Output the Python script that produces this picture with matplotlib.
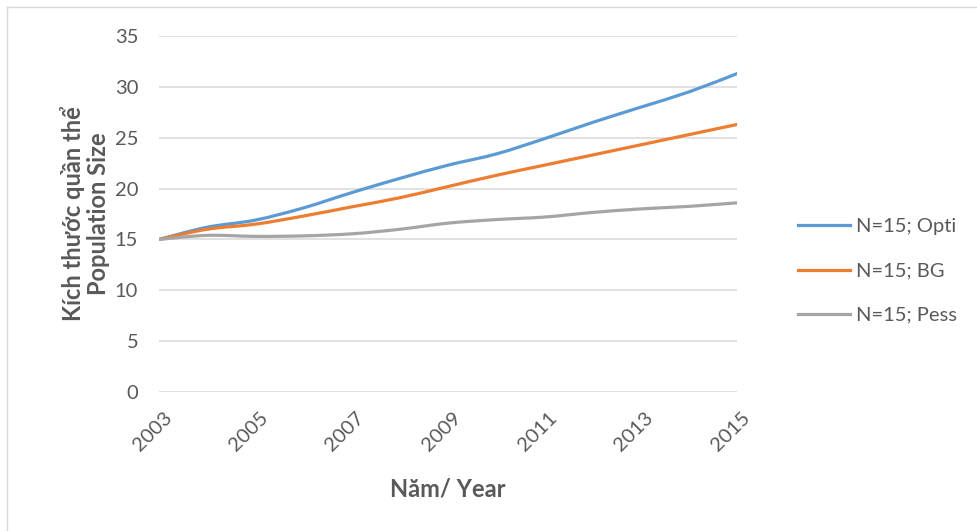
import numpy as np
import matplotlib
matplotlib.use("Agg")
import matplotlib.pyplot as plt
import matplotlib.transforms as mtransforms
from matplotlib.path import Path
from matplotlib.patches import PathPatch
from matplotlib.lines import Line2D

plt.rcParams['font.family'] = ['Lato', 'DejaVu Sans']

years = [2003, 2004, 2005, 2006, 2007, 2008, 2009, 2010, 2011, 2012, 2013, 2014, 2015]
opti = [15.0, 16.2, 16.9, 18.1, 19.6, 21.0, 22.3, 23.4, 24.9, 26.5, 28.0, 29.5, 31.3]
bg = [15.0, 16.0, 16.5, 17.3, 18.2, 19.1, 20.2, 21.3, 22.3, 23.3, 24.3, 25.3, 26.3]
pess = [15.0, 15.4, 15.3, 15.35, 15.55, 16.0, 16.6, 16.95, 17.2, 17.65, 18.0, 18.25, 18.6]

series_labels = ["N=15; Opti", "N=15; BG", "N=15; Pess"]
series_colors = ["#5B9BD5", "#ED7D31", "#A5A5A5"]
yticks = [0, 5, 10, 15, 20, 25, 30, 35]
xticks = [2003, 2005, 2007, 2009, 2011, 2013, 2015]

text_color = "#595959"


def smooth_path(x, y):
    """Catmull-Rom style Bezier path through the points (spreadsheet-like smoothing)."""
    x = np.asarray(x, float)
    y = np.asarray(y, float)
    n = len(x)
    verts = [(x[0], y[0])]
    codes = [Path.MOVETO]
    t = 1.0 / 6.0
    for i in range(n - 1):
        p0 = (x[i - 1], y[i - 1]) if i > 0 else (x[i], y[i])
        p1 = (x[i], y[i])
        p2 = (x[i + 1], y[i + 1])
        p3 = (x[i + 2], y[i + 2]) if i + 2 < n else (x[i + 1], y[i + 1])
        c1 = (p1[0] + (p2[0] - p0[0]) * t, p1[1] + (p2[1] - p0[1]) * t)
        c2 = (p2[0] - (p3[0] - p1[0]) * t, p2[1] - (p3[1] - p1[1]) * t)
        verts += [c1, c2, p2]
        codes += [Path.CURVE4] * 3
    return Path(verts, codes)


fig = plt.figure(figsize=(9.78, 5.31), dpi=100)
ax = fig.add_axes([159 / 978, 1 - 392 / 531, (737 - 159) / 978, (392 - 36) / 531])

for vals, col in zip([opti, bg, pess], series_colors):
    patch = PathPatch(smooth_path(years, vals), facecolor="none", edgecolor=col,
                      lw=2.3, capstyle="round", joinstyle="round", zorder=3)
    ax.add_patch(patch)

ax.set_xlim(years[0], years[-1])
ax.set_ylim(0, 35)
ax.set_yticks(yticks)
ax.set_xticks(xticks)
ax.set_xticklabels([str(v) for v in xticks], rotation=45, ha="right", va="top",
                   rotation_mode="anchor", color=text_color, fontsize=14.5)
ax.set_yticklabels([str(v) for v in yticks], color=text_color, fontsize=14.5)
ax.tick_params(axis="both", length=0)
ax.tick_params(axis="y", pad=15)
ax.tick_params(axis="x", pad=12)
shift = mtransforms.ScaledTranslation(4 / 100, 0, fig.dpi_scale_trans)
for lbl in ax.get_xticklabels():
    lbl.set_transform(lbl.get_transform() + shift)
ax.grid(axis="y", color="#D9D9D9", lw=1.1)
ax.set_axisbelow(True)
for s in ax.spines.values():
    s.set_visible(False)

ax.set_ylabel("Kích thước quần thể\nPopulation Size", fontsize=17, fontweight="bold",
              color=text_color, labelpad=3, linespacing=1.15)
fig.text(448 / 978, 1 - 489 / 531, "Năm/ Year", ha="center", va="center",
         fontsize=17, fontweight="bold", color=text_color)

handles = [Line2D([], [], color=c, lw=2.3) for c in series_colors]
leg = fig.legend(handles, series_labels, loc="center left",
                 bbox_to_anchor=(780 / 978, 1 - 271 / 531), frameon=False,
                 fontsize=14.5, handlelength=2.6, handletextpad=0.25,
                 labelspacing=1.35, labelcolor=text_color)

# chart area border (top and left edges)
fig.add_artist(Line2D([7 / 978, 1.0], [1 - 7 / 531, 1 - 7 / 531],
                      transform=fig.transFigure, color="#D9D9D9", lw=1.0))
fig.add_artist(Line2D([7 / 978, 7 / 978], [0.0, 1 - 7 / 531],
                      transform=fig.transFigure, color="#D9D9D9", lw=1.0))

fig.savefig("out.png", dpi=100)
